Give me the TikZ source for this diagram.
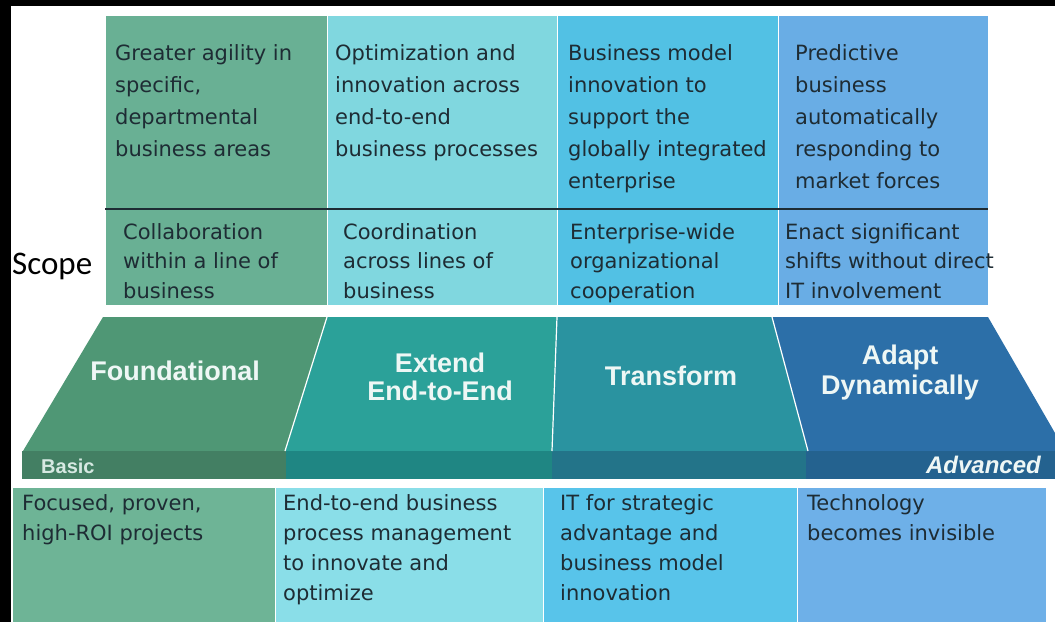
\documentclass[tikz,border=0pt]{standalone}
\usepackage{fontspec}
\setmainfont{DejaVu Sans}
\newfontfamily\headfont{Liberation Sans}
\newfontfamily\scopefont{Carlito}
\usetikzlibrary{positioning}
\definecolor{leaftop}{HTML}{69B094}
\definecolor{aquatop}{HTML}{80D7DF}
\definecolor{skytop}{HTML}{52C1E4}
\definecolor{bluetop}{HTML}{69ADE5}
\definecolor{leaflow}{HTML}{6EB496}
\definecolor{aqualow}{HTML}{8ADEE8}
\definecolor{skylow}{HTML}{58C4EA}
\definecolor{bluelow}{HTML}{6EB0E8}
\definecolor{leafband}{HTML}{4F9775}
\definecolor{tealband}{HTML}{2BA199}
\definecolor{petrolband}{HTML}{2A93A0}
\definecolor{oceanband}{HTML}{2C6FA8}
\definecolor{leafstrip}{HTML}{437F63}
\definecolor{tealstrip}{HTML}{1F8683}
\definecolor{petrolstrip}{HTML}{237489}
\definecolor{oceanstrip}{HTML}{24628F}
\definecolor{inktext}{HTML}{1E2C34}
\definecolor{headwhite}{HTML}{EEF7F5}

\begin{document}
\begin{tikzpicture}[x=1pt, y=-1pt]
% Define styles
\tikzstyle{column} = [rectangle, anchor=north west, inner sep=0pt, outer sep=0pt, draw=white!70, line width=1pt]
\tikzstyle{cell} = [anchor=north west, inner sep=0pt, align=left, text=inktext, font=\fontsize{21}{32}\selectfont]
\tikzstyle{scopecell} = [cell, font=\fontsize{21}{29.5}\selectfont]
\tikzstyle{lowcell} = [cell, font=\fontsize{21}{30}\selectfont]
\tikzstyle{stage} = [align=center, inner sep=0pt, text=headwhite, font=\headfont\bfseries\fontsize{27}{28}\selectfont]
\tikzstyle{divider} = [white!60, line width=1.2pt]

% Frame
\useasboundingbox (0,0) rectangle (1055,622);
\fill[black] (0,0) rectangle (1055,622);
\fill[white] (11,6) rectangle (1055,622);

% Top columns
\node (top1) [column, fill=leaftop, minimum width=222pt, minimum height=290pt] at (105,15) {};
\node (top2) [column, fill=aquatop, minimum width=230pt, minimum height=290pt, right=0pt of top1] {};
\node (top3) [column, fill=skytop, minimum width=221pt, minimum height=290pt, right=0pt of top2] {};
\node (top4) [column, fill=bluetop, minimum width=210pt, minimum height=290pt, right=0pt of top3] {};
\draw[line width=2pt, inktext] ([yshift=-194pt]top1.north west) -- ([yshift=-194pt]top4.north east);

\node (goal1) [cell, below right=29pt and 10pt of top1.north west] {Greater agility in\\specific,\\departmental\\business areas};
\node (goal2) [cell, below right=29pt and 8pt of top2.north west] {Optimization and\\innovation across\\end-to-end\\business processes};
\node (goal3) [cell, below right=29pt and 11pt of top3.north west] {Business model\\innovation to\\support the\\globally integrated\\enterprise};
\node (goal4) [cell, below right=29pt and 17pt of top4.north west] {Predictive\\business\\automatically\\responding to\\market forces};

\node (reach1) [scopecell, below right=208pt and 18pt of top1.north west] {Collaboration\\within a line of\\business};
\node (reach2) [scopecell, below right=208pt and 16pt of top2.north west] {Coordination\\across lines of\\business};
\node (reach3) [scopecell, below right=208pt and 13pt of top3.north west] {Enterprise-wide\\organizational\\cooperation};
\node (reach4) [scopecell, below right=208pt and 7pt of top4.north west] {Enact significant\\shifts without direct\\IT involvement};

\node (scope) [anchor=west, inner sep=0pt, font=\scopefont\fontsize{33}{33}\selectfont] at (12,266) {Scope};

% Stage band
\fill[leafband] (103,317) -- (327,317) -- (285,451) -- (23,451) -- cycle;
\fill[tealband] (327,317) -- (557,317) -- (552,451) -- (285,451) -- cycle;
\fill[petrolband] (557,317) -- (772,317) -- (808,451) -- (552,451) -- cycle;
\fill[oceanband] (772,317) -- (988,317) -- (1055,433) -- (1055,451) -- (808,451) -- cycle;
\fill[leafstrip] (22,451) rectangle (286,479);
\fill[tealstrip] (286,451) rectangle (552,479);
\fill[petrolstrip] (552,451) rectangle (806,479);
\fill[oceanstrip] (806,451) rectangle (1055,479);
\draw[divider] (327,317) -- (285,451);
\draw[divider] (557,317) -- (552,451);
\draw[divider] (772,317) -- (808,451);

\node (found) [stage] at (175,371) {Foundational};
\node (extend) [stage] at (440,377) {Extend\\End-to-End};
\node (transform) [stage] at (671,376) {Transform};
\node (adapt) [stage, font=\headfont\bfseries\fontsize{27}{30}\selectfont] at (900,373) {Adapt\\Dynamically};
\node (basic) [anchor=west, inner sep=0pt, text=headwhite!85!leafband, font=\headfont\bfseries\fontsize{20}{20}\selectfont] at (41,466) {Basic};
\node (advanced) [anchor=east, inner sep=0pt, text=headwhite, font=\headfont\bfseries\itshape\fontsize{24}{24}\selectfont] at (1041,465) {Advanced};

% Bottom columns
\node (low1) [column, fill=leaflow, minimum width=263pt, minimum height=135pt] at (12,487) {};
\node (low2) [column, fill=aqualow, minimum width=268pt, minimum height=135pt, right=0pt of low1] {};
\node (low3) [column, fill=skylow, minimum width=254pt, minimum height=135pt, right=0pt of low2] {};
\node (low4) [column, fill=bluelow, minimum width=249pt, minimum height=135pt, right=0pt of low3] {};

\node (aim1) [lowcell, below right=7pt and 10pt of low1.north west] {Focused, proven,\\high-ROI projects};
\node (aim2) [lowcell, below right=7pt and 8pt of low2.north west] {End-to-end business\\process management\\to innovate and\\optimize};
\node (aim3) [lowcell, below right=7pt and 17pt of low3.north west] {IT for strategic\\advantage and\\business model\\innovation};
\node (aim4) [lowcell, below right=7pt and 10pt of low4.north west] {Technology\\becomes invisible};
\end{tikzpicture}
\end{document}
